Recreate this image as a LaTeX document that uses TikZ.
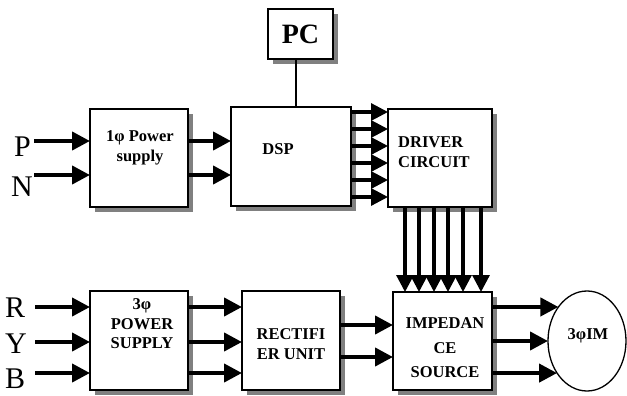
\documentclass[tikz,border=0pt]{standalone}
\usepackage{fontspec}
\setmainfont{Liberation Serif}
\usetikzlibrary{arrows.meta,shapes.geometric,shadows,calc}
\begin{document}
\begin{tikzpicture}[x=1pt,y=-1pt,
  box/.style={draw, line width=1.3pt, fill=white, inner sep=0pt, outer sep=0pt, anchor=north west,
    drop shadow={shadow xshift=5pt, shadow yshift=-5pt, fill=black!50, opacity=1}},
  btxt/.style={inner sep=0pt, align=center, font=\bfseries\fontsize{16.5}{20}\selectfont},
  lbl/.style={inner sep=0pt, anchor=base west, font=\fontsize{30}{30}\selectfont},
  arr/.style={line width=4pt, -{Triangle[length=18pt,width=18pt]}},
  sarr/.style={line width=3.2pt, -{Triangle[length=17pt,width=17pt]}}]
\useasboundingbox (0,0) rectangle (627,396);

% boxes
\node[box, minimum width=65pt, minimum height=50pt, font=\bfseries\fontsize{28}{28}\selectfont] (pc) at (268,9) {PC};
\node[box, minimum width=98pt, minimum height=98pt] (ps1) at (90,109) {};
\node[box, minimum width=120pt, minimum height=99pt] (dsp) at (231,107) {};
\node[box, minimum width=104pt, minimum height=98pt] (drv) at (388,109) {};
\node[box, minimum width=98pt, minimum height=99pt] (ps3) at (90,291) {};
\node[box, minimum width=98pt, minimum height=99pt] (rect) at (242,291) {};
\node[box, minimum width=99pt, minimum height=98pt] (imp) at (393,292) {};
\node[draw, ellipse, line width=1.3pt, fill=white, inner sep=0pt, outer sep=0pt,
      minimum width=78pt, minimum height=100pt] (mot) at (587,341) {};

% box texts
\node[btxt] (t1) at (140,148) {1φ Power\\supply};
\node[btxt] (t2) at (278,149) {DSP};
\node[btxt, align=left, anchor=west] (t3) at (398,152) {DRIVER\\CIRCUIT};
\node[btxt, font=\bfseries\fontsize{16.5}{19.5}\selectfont] (t4) at (142,324) {3φ\\POWER\\SUPPLY};
\node[btxt] (t5) at (291,344) {RECTIFI\\ER UNIT};
\node[btxt, font=\bfseries\fontsize{16.5}{24.5}\selectfont] (t6) at (445,348) {IMPEDAN\\CE\\SOURCE};
\node[btxt] (t7) at (588,336) {3φIM};

% input labels
\node[lbl] (lp) at (14,157) {P};
\node[lbl] (ln) at (11,196) {N};
\node[lbl] (lr) at (5,317) {R};
\node[lbl] (ly) at (5,353) {Y};
\node[lbl] (lb) at (5,388) {B};

\coordinate (ip) at (34,141);
\coordinate (in) at (34,175);
\coordinate (ir) at (35,307);
\coordinate (iy) at (35,342);
\coordinate (ib) at (35,373);

% PC to DSP
\coordinate (pcs) at ($(pc.south)+(-4.5,0)$);
\draw[line width=1.3pt] (pcs) -- (pcs |- dsp.north);

% inputs
\draw[arr] (ip) -- (ps1.west |- ip);
\draw[arr] (in) -- (ps1.west |- in);
\draw[arr] (ir) -- (ps3.west |- ir);
\draw[arr] (iy) -- (ps3.west |- iy);
\draw[arr] (ib) -- (ps3.west |- ib);

% ps1 -> dsp
\draw[arr] (ps1.east |- ip) -- (dsp.west |- ip);
\draw[arr] (ps1.east |- in) -- (dsp.west |- in);

% dsp -> driver
\foreach \yy in {112,129,146,163,180,197}
  \draw[sarr] (dsp.east |- 0,\yy) -- (drv.west |- 0,\yy);

% driver -> impedance
\foreach \xx in {405,419,434,448,463,481}
  \draw[sarr] (drv.south -| \xx,0) -- (imp.north -| \xx,0);

% ps3 -> rectifier
\draw[arr] (ps3.east |- ir) -- (rect.west |- ir);
\draw[arr] (ps3.east |- iy) -- (rect.west |- iy);
\draw[arr] (ps3.east |- ib) -- (rect.west |- ib);

% rectifier -> impedance
\draw[arr] (rect.east |- 0,325) -- (imp.west |- 0,325);
\draw[arr] (rect.east |- 0,357) -- (imp.west |- 0,357);

% impedance -> motor
\draw[arr] (imp.east |- mot.130) -- (mot.130);
\draw[arr] (imp.east |- mot.west) -- (mot.west);
\draw[arr] (imp.east |- mot.227) -- (mot.227);
\end{tikzpicture}
\end{document}
